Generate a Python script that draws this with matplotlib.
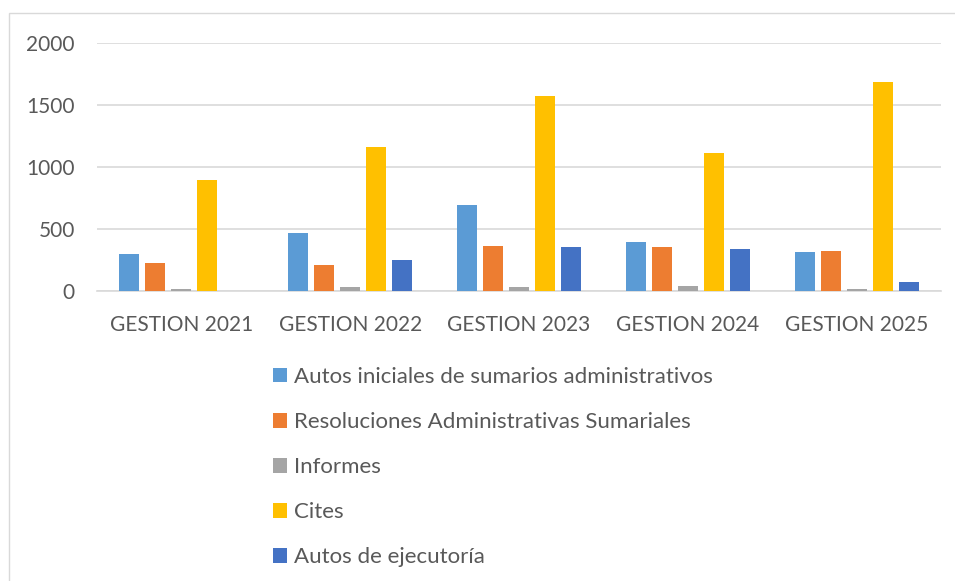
import numpy as np
import matplotlib
matplotlib.use("Agg")
import matplotlib.pyplot as plt
from matplotlib.patches import Rectangle

plt.rcParams['font.family'] = ['Lato', 'DejaVu Sans']

categories = ["GESTION 2021", "GESTION 2022", "GESTION 2023", "GESTION 2024", "GESTION 2025"]
series_names = [
    "Autos iniciales de sumarios administrativos",
    "Resoluciones Administrativas Sumariales",
    "Informes",
    "Cites",
    "Autos de ejecutoría",
]
autos_iniciales = [296, 464, 693, 393, 318]
resoluciones = [226, 210, 361, 356, 323]
informes = [19, 30, 32, 40, 19]
cites = [897, 1159, 1571, 1110, 1687]
autos_ejecutoria = [0, 253, 356, 337, 73]
colors = ["#5B9BD5", "#ED7D31", "#A5A5A5", "#FFC000", "#4472C4"]

all_series = [autos_iniciales, resoluciones, informes, cites, autos_ejecutoria]

fig = plt.figure(figsize=(9.55, 5.81), dpi=100)
# borde del área del gráfico
fig.patches.append(Rectangle((9 / 955, -0.01), 1.0, 1 - 13 / 581 + 0.01,
                             transform=fig.transFigure, fill=False,
                             edgecolor="#D9D9D9", linewidth=1))

ax = fig.add_axes([97 / 955, 1 - 291 / 581, (941 - 97) / 955, (291 - 43) / 581])

x = np.arange(len(categories))
width = 0.119
step = 0.154
for i, (vals, name, c) in enumerate(zip(all_series, series_names, colors)):
    offs = (i - 2) * step
    ax.bar(x + offs, vals, width, color=c, label=name, zorder=3)

ax.set_xlim(-0.5, 4.5)
ax.set_ylim(0, 2000)
ax.set_yticks([0, 500, 1000, 1500, 2000])
ax.set_xticks(x)
ax.set_xticklabels(categories)
ax.yaxis.grid(True, color="#D9D9D9", linewidth=1.2, zorder=0)
ax.set_axisbelow(True)
for s in ["top", "right", "left"]:
    ax.spines[s].set_visible(False)
ax.spines["bottom"].set_color("#D9D9D9")
ax.spines["bottom"].set_linewidth(1.2)
ax.tick_params(axis="both", length=0, labelsize=15, labelcolor="#595959")
ax.tick_params(axis="x", pad=17)
ax.tick_params(axis="y", pad=16)

fig.legend(loc="upper left", bbox_to_anchor=(273 / 955, 1 - 367 / 581),
           frameon=False, fontsize=16, labelcolor="#595959",
           handlelength=0.63, handleheight=0.63, handletextpad=0.3,
           labelspacing=1.13, borderpad=0, borderaxespad=0)

fig.savefig("out.png", dpi=100, facecolor="white")
